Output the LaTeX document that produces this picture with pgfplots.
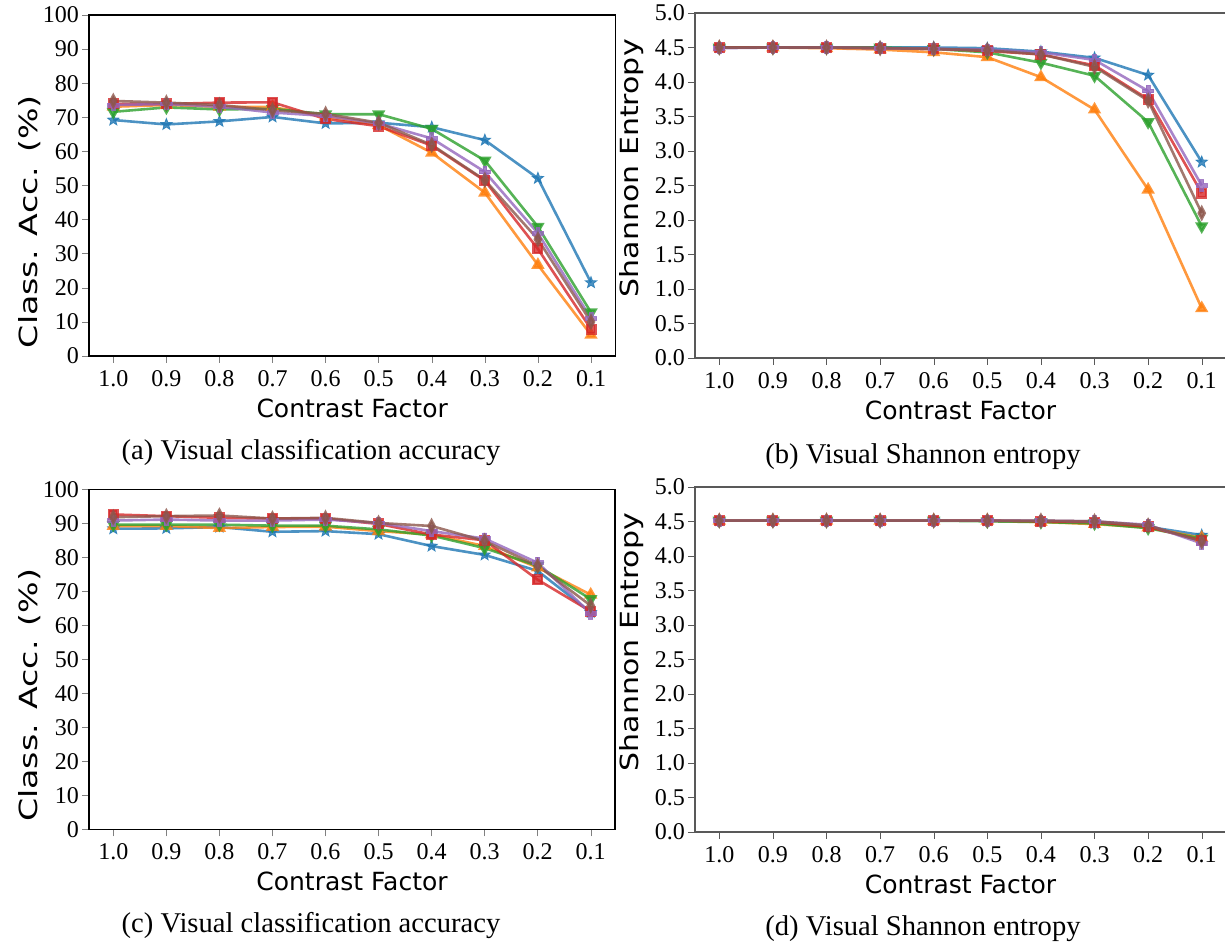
\documentclass[border=0pt]{standalone}
\usepackage{fontspec}
\setmainfont{Liberation Serif}
\newfontfamily\labelfont{DejaVu Sans}
\usepackage{graphicx}
\usepackage{pgfplots}
\usepackage{pgfplotstable}
\pgfplotsset{compat=1.18}

\definecolor{tabblue}{HTML}{1F77B4}
\definecolor{taborange}{HTML}{FF7F0E}
\definecolor{tabgreen}{HTML}{2CA02C}
\definecolor{tabred}{HTML}{D62728}
\definecolor{tabpurple}{HTML}{9467BD}
\definecolor{tabbrown}{HTML}{8C564B}

% filled five-pointed star
\pgfdeclareplotmark{fstar}{%
  \pgfpathmoveto{\pgfpointpolar{90}{\pgfplotmarksize}}%
  \pgfpathlineto{\pgfpointpolar{126}{0.42\pgfplotmarksize}}%
  \pgfpathlineto{\pgfpointpolar{162}{\pgfplotmarksize}}%
  \pgfpathlineto{\pgfpointpolar{198}{0.42\pgfplotmarksize}}%
  \pgfpathlineto{\pgfpointpolar{234}{\pgfplotmarksize}}%
  \pgfpathlineto{\pgfpointpolar{270}{0.42\pgfplotmarksize}}%
  \pgfpathlineto{\pgfpointpolar{306}{\pgfplotmarksize}}%
  \pgfpathlineto{\pgfpointpolar{342}{0.42\pgfplotmarksize}}%
  \pgfpathlineto{\pgfpointpolar{18}{\pgfplotmarksize}}%
  \pgfpathlineto{\pgfpointpolar{54}{0.42\pgfplotmarksize}}%
  \pgfpathclose\pgfusepathqfillstroke}
% filled plus
\pgfdeclareplotmark{fplus}{%
  \pgfpathmoveto{\pgfqpoint{0.34\pgfplotmarksize}{\pgfplotmarksize}}%
  \pgfpathlineto{\pgfqpoint{0.34\pgfplotmarksize}{0.34\pgfplotmarksize}}%
  \pgfpathlineto{\pgfqpoint{\pgfplotmarksize}{0.34\pgfplotmarksize}}%
  \pgfpathlineto{\pgfqpoint{\pgfplotmarksize}{-0.34\pgfplotmarksize}}%
  \pgfpathlineto{\pgfqpoint{0.34\pgfplotmarksize}{-0.34\pgfplotmarksize}}%
  \pgfpathlineto{\pgfqpoint{0.34\pgfplotmarksize}{-\pgfplotmarksize}}%
  \pgfpathlineto{\pgfqpoint{-0.34\pgfplotmarksize}{-\pgfplotmarksize}}%
  \pgfpathlineto{\pgfqpoint{-0.34\pgfplotmarksize}{-0.34\pgfplotmarksize}}%
  \pgfpathlineto{\pgfqpoint{-\pgfplotmarksize}{-0.34\pgfplotmarksize}}%
  \pgfpathlineto{\pgfqpoint{-\pgfplotmarksize}{0.34\pgfplotmarksize}}%
  \pgfpathlineto{\pgfqpoint{-0.34\pgfplotmarksize}{0.34\pgfplotmarksize}}%
  \pgfpathlineto{\pgfqpoint{-0.34\pgfplotmarksize}{\pgfplotmarksize}}%
  \pgfpathclose\pgfusepathqfillstroke}

% index 0..9 stands for contrast factor 1.0 .. 0.1
\pgfplotstableread{
x blue orange green red purple brown
0 69.2 73.1 71.6 73.9 73.6 74.8
1 67.9 73.6 72.9 73.9 73.9 74.3
2 68.8 73.1 72.3 74.3 73.1 73.6
3 70.1 73.0 72.5 74.4 71.4 72.1
4 68.2 70.2 70.9 69.5 70.4 71.0
5 68.4 67.7 70.9 67.4 68.2 68.4
6 67.1 59.6 66.6 61.7 63.8 61.9
7 63.3 47.9 57.3 51.4 54.0 51.6
8 52.1 26.7 37.9 31.4 36.0 34.2
9 21.5 6.2 12.8 7.9 11.0 10.0
}\accA

\pgfplotstableread{
x blue orange green red purple brown
0 4.50 4.50 4.50 4.50 4.49 4.50
1 4.50 4.50 4.50 4.50 4.50 4.50
2 4.50 4.49 4.50 4.50 4.50 4.50
3 4.50 4.47 4.50 4.49 4.49 4.49
4 4.50 4.43 4.48 4.48 4.48 4.48
5 4.49 4.36 4.43 4.45 4.47 4.46
6 4.44 4.07 4.28 4.40 4.43 4.40
7 4.35 3.60 4.09 4.24 4.32 4.22
8 4.10 2.44 3.42 3.75 3.87 3.73
9 2.84 0.72 1.91 2.39 2.50 2.10
}\entB

\pgfplotstableread{
x blue orange green red purple brown
0 88.4 89.2 89.6 92.6 90.8 91.8
1 88.5 89.2 89.6 92.1 91.1 92.1
2 88.9 88.6 89.6 91.6 90.8 92.3
3 87.5 88.9 89.3 91.4 90.8 91.4
4 87.7 89.0 89.3 91.4 91.1 91.6
5 86.8 87.7 88.2 89.8 90.1 90.1
6 83.3 86.7 86.4 86.7 87.7 89.2
7 80.7 83.3 82.7 85.0 85.5 84.8
8 76.0 77.0 77.5 73.4 78.4 77.5
9 63.8 69.0 67.7 64.1 63.5 65.8
}\accC

\pgfplotstableread{
x blue orange green red purple brown
0 4.51 4.51 4.51 4.51 4.51 4.51
1 4.51 4.51 4.51 4.51 4.51 4.51
2 4.51 4.51 4.51 4.51 4.51 4.51
3 4.51 4.51 4.51 4.51 4.51 4.51
4 4.51 4.51 4.51 4.51 4.51 4.51
5 4.51 4.51 4.50 4.51 4.51 4.51
6 4.50 4.49 4.49 4.50 4.51 4.51
7 4.47 4.46 4.47 4.49 4.50 4.50
8 4.42 4.41 4.40 4.42 4.45 4.44
9 4.30 4.26 4.25 4.22 4.18 4.21
}\entD

\pgfplotsset{
  contrast/.style={
    scale only axis,
    anchor=south west,
    xtick={0,...,9},
    xticklabels={1.0,0.9,0.8,0.7,0.6,0.5,0.4,0.3,0.2,0.1},
    tick pos=left,
    tick align=outside,
    major tick length=3.5pt,
    /pgf/number format/assume math mode=true,
    tick label style={font=\fontsize{12}{12}\selectfont},
    yticklabel style={xshift=2pt},
    xlabel={Contrast Factor},
    xlabel style={at={(axis description cs:0.5,0)}, anchor=center, yshift=-26pt,
      font=\labelfont\fontsize{12.5}{12.5}\selectfont},
    ylabel style={anchor=center, font=\labelfont\fontsize{12.5}{12.5}\selectfont},
    every axis plot/.append style={line width=1.3pt, opacity=0.8},
    clip=false,
  },
  accaxis/.style={
    contrast,
    xmin=-0.458, xmax=9.458,
    ymin=0, ymax=100,
    ytick={0,10,...,100},
    axis line style={line width=0.7pt},
    ylabel={\scalebox{1.33}[1]{Class. Acc. (\%)}},
    ylabel style={at={(axis description cs:-0.112,0.394)}},
  },
  entaxis/.style={
    contrast,
    xmin=-0.453, xmax=9.453,
    ymin=0, ymax=5,
    ytick={0,0.5,...,5.0},
    yticklabel style={/pgf/number format/.cd, fixed, fixed zerofill, precision=1},
    axis line style={draw=black!65, line width=1pt},
    major tick style={draw=black!65},
    ylabel={\scalebox{1.2}[1]{Shannon Entropy}},
    ylabel style={at={(axis description cs:-0.119,0.55)}},
  },
  sblue/.style={color=tabblue, mark=fstar, mark size=3pt, mark options={solid, line width=0.4pt}},
  sorange/.style={color=taborange, mark=triangle*, mark size=2.6pt, mark options={solid}},
  sgreen/.style={color=tabgreen, mark=triangle*, mark size=2.6pt, mark options={solid, rotate=180}},
  sred/.style={color=tabred, mark=square*, mark size=2.1pt, mark options={solid}},
  spurple/.style={color=tabpurple, mark=fplus, mark size=2.8pt, mark options={solid, line width=0.4pt}},
  sbrown/.style={color=tabbrown, mark=diamond*, mark size=2.8pt, mark options={solid, xscale=0.7}},
}

\newcommand\sixseries[1]{%
  \addplot[sblue]   table[x=x, y=blue]   {#1};
  \addplot[sorange] table[x=x, y=orange] {#1};
  \addplot[sgreen]  table[x=x, y=green]  {#1};
  \addplot[sred]    table[x=x, y=red]    {#1};
  \addplot[spurple] table[x=x, y=purple] {#1};
  \addplot[sbrown]  table[x=x, y=brown]  {#1};
}

\begin{document}
\begin{tikzpicture}
\path[use as bounding box] (0,0) rectangle (612.5pt,473pt);
\clip (0,0) rectangle (612.5pt,473pt);

\begin{axis}[accaxis, at={(44.5pt,295pt)}, width=263.15pt, height=170.5pt]
\sixseries{\accA}
\end{axis}

\begin{axis}[entaxis, at={(347.5pt,294pt)}, width=265.5pt, height=172.5pt]
\sixseries{\entB}
\end{axis}

\begin{axis}[accaxis, at={(44.5pt,58.35pt)}, width=263pt, height=170pt]
\sixseries{\accC}
\end{axis}

\begin{axis}[entaxis, at={(347.5pt,57pt)}, width=265.5pt, height=172.6pt]
\sixseries{\entD}
\end{axis}

\begin{scope}[every node/.style={font=\fontsize{14.3}{14.3}\selectfont, anchor=center, inner sep=0pt}]
\node at (155.5pt,246.5pt) {(a) Visual classification accuracy};
\node at (461.5pt,244.5pt) {(b) Visual Shannon entropy};
\node at (155.5pt,10pt) {(c) Visual classification accuracy};
\node at (461.5pt,8.5pt) {(d) Visual Shannon entropy};
\end{scope}
\end{tikzpicture}
\end{document}
